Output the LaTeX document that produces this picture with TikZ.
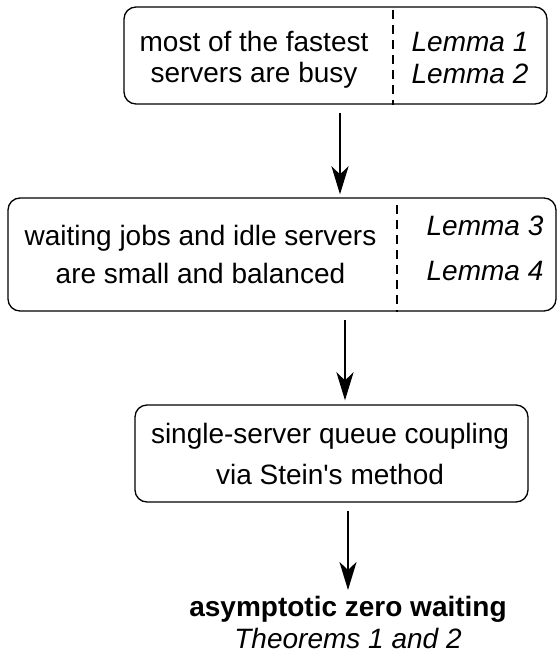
\documentclass[tikz,border=0pt]{standalone}
\usepackage{fontspec}
\setmainfont{Liberation Sans}[Ligatures=TeXOff]
\usetikzlibrary{arrows.meta}
\begin{document}
\begin{tikzpicture}[x=1pt,y=-1pt,
  box/.style={draw=black, line width=1.3pt, rounded corners=12pt, inner sep=0pt},
  lbl/.style={font=\fontsize{28}{34}\selectfont, anchor=base, inner sep=0pt},
  lem/.style={font=\fontsize{28}{34}\selectfont\itshape, anchor=base, inner sep=0pt},
  divider/.style={line width=1.3pt, dash pattern=on 9pt off 6pt},
  arr/.style={line width=2.8pt, -{Stealth[length=28pt,width=17pt,inset=8pt]}}]
\path[use as bounding box, fill=white] (0,0) rectangle (558,654);

% box 1
\node[box, minimum width=423pt, minimum height=97pt] (b1) at (335.5,55.5) {};
\node[lbl] (t1a) at (254,51) {most of the fastest};
\node[lbl] (t1b) at (254,82) {servers are busy};
\node[lem] (l1) at (470,51) {Lemma 1};
\node[lem] (l2) at (470,83) {Lemma 2};
\coordinate (d1) at (393,0);
\draw[divider] (b1.north -| d1) ++(0,4) -- (b1.south -| d1);

% box 2
\node[box, minimum width=548pt, minimum height=113pt] (b2) at (282,254.5) {};
\node[lbl] (t2a) at (200.5,245) {waiting jobs and idle servers};
\node[lbl] (t2b) at (200.5,283) {are small and balanced};
\node[lem] (l3) at (485,235) {Lemma 3};
\node[lem] (l4) at (485,280) {Lemma 4};
\coordinate (d2) at (397,0);
\draw[divider] (b2.north -| d2) ++(0,8) -- (b2.south -| d2);

% box 3
\node[box, minimum width=393pt, minimum height=97pt] (b3) at (331.5,453.5) {};
\node[lbl] (t3a) at (330,443) {single-server queue coupling};
\node[lbl] (t3b) at (330,484) {via Stein's method};

% result
\node[lbl, font=\fontsize{28}{34}\selectfont\bfseries] (r1) at (348,616) {asymptotic zero waiting};
\node[lem] (r2) at (348,648) {Theorems 1 and 2};

% arrows
\coordinate (x1) at (340,0);
\coordinate (x2) at (345,0);
\coordinate (x3) at (348,0);
\coordinate (e3) at (348,590);
\draw[arr, shorten <=8pt, shorten >=3pt] (b1.south -| x1) -- (b2.north -| x1);
\draw[arr, shorten <=8pt, shorten >=4pt] (b2.south -| x2) -- (b3.north -| x2);
\draw[arr, shorten <=8pt] (b3.south -| x3) -- (e3);
\end{tikzpicture}
\end{document}
